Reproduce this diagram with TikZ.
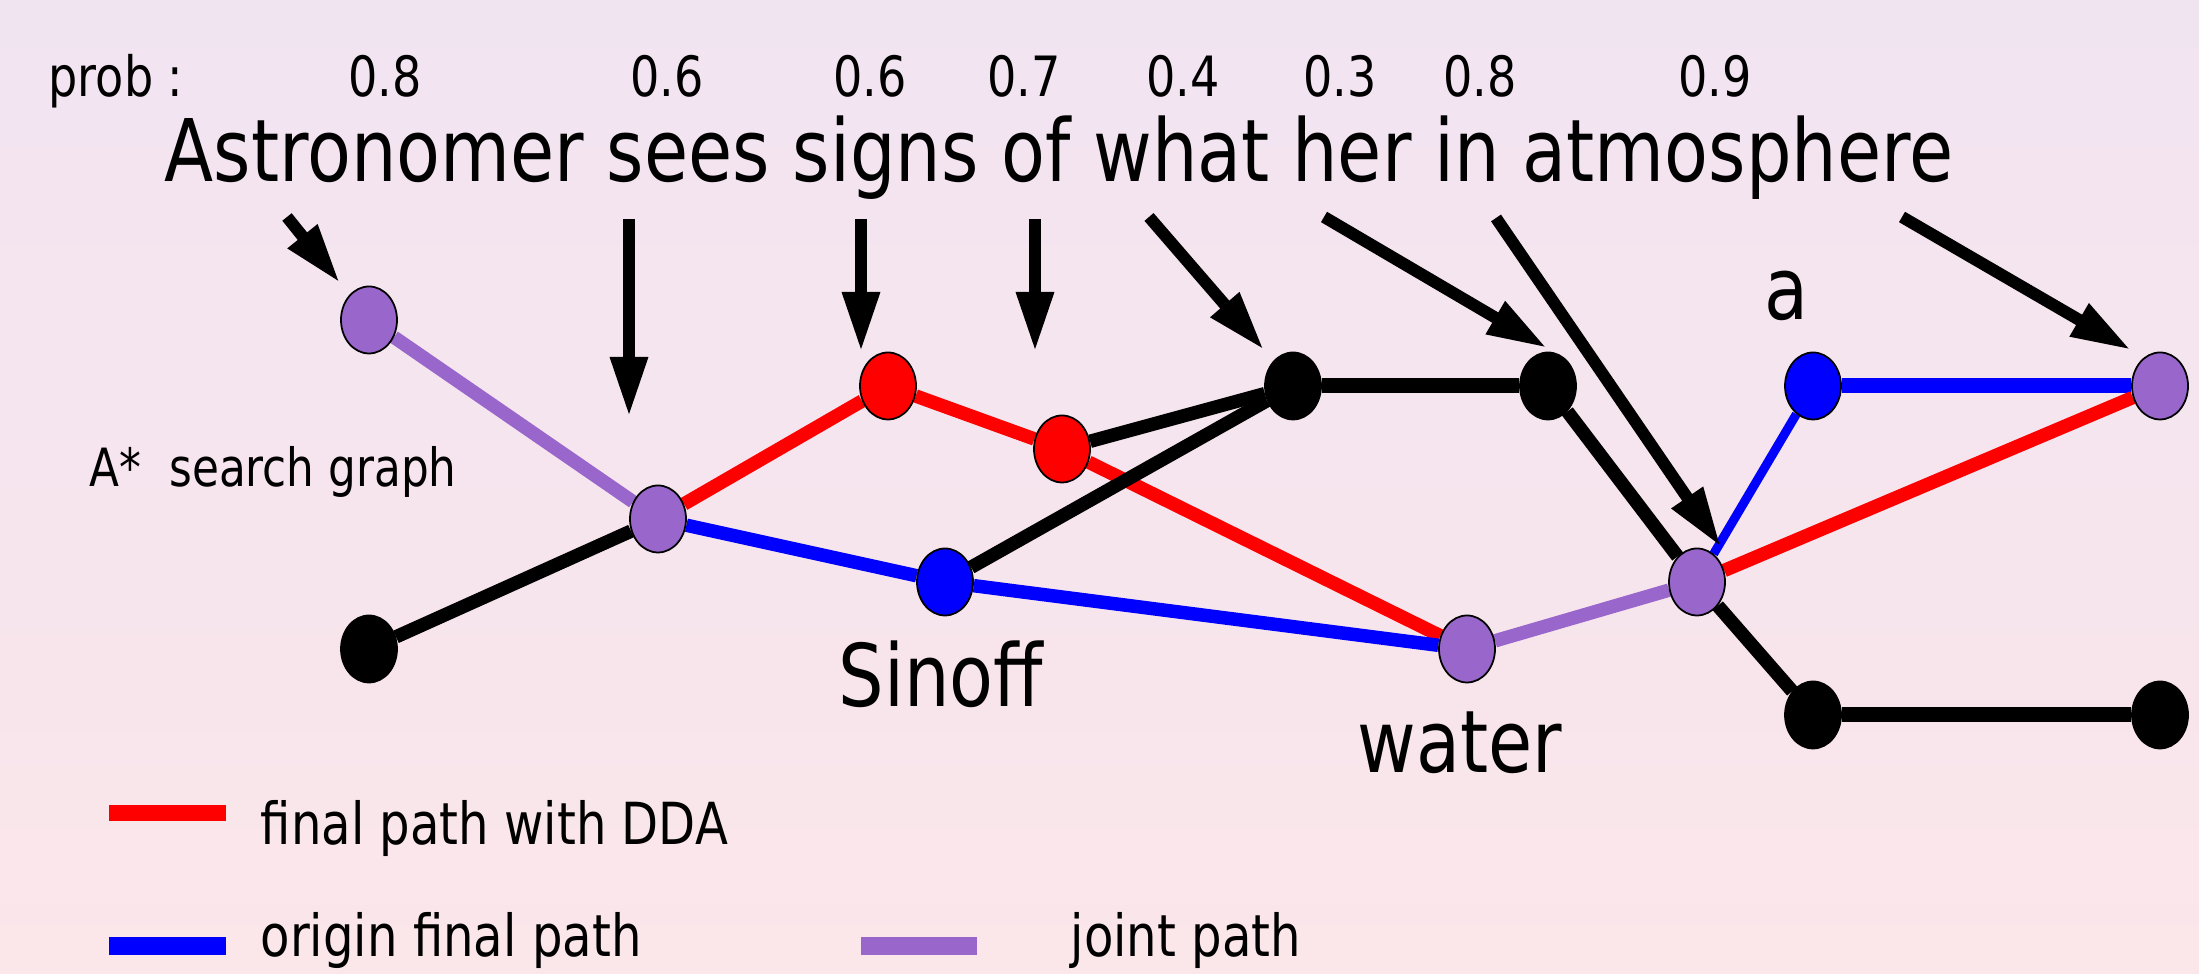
\documentclass[tikz,border=0pt]{standalone}
\usepackage{fontspec}
\setmainfont{DejaVu Sans}[FakeStretch=0.83]
\usetikzlibrary{arrows.meta,shapes.geometric}
\definecolor{joint}{HTML}{9966CC}
\definecolor{bgtop}{HTML}{F1E4F1}
\definecolor{bgbot}{HTML}{FBE6EA}
\pgfdeclarelayer{bg}
\pgfsetlayers{bg,main}
\tikzset{
  vert/.style={ellipse, draw=black, line width=0.5pt, inner sep=0pt,
               minimum width=0.56cm, minimum height=0.67cm},
  blk/.style={vert, fill=black},
  dda/.style={vert, fill=red},
  orig/.style={vert, fill=blue},
  jnt/.style={vert, fill=joint},
  link/.style={line width=0.135cm},
  flat/.style={line width=0.15cm},
  pointer/.style={->, line width=0.12cm},
  bigtxt/.style={inner sep=0pt, anchor=base, font=\fontsize{24.6}{29}\selectfont},
  probtxt/.style={inner sep=0pt, anchor=base, font=\fontsize{15.8}{19}\selectfont},
  legtxt/.style={inner sep=0pt, anchor=base west, font=\fontsize{16.5}{20}\selectfont}
}

\begin{document}
\begin{tikzpicture}[>={Triangle[length=0.6cm, width=0.35cm]}]
  \useasboundingbox (0, 0) rectangle (21.99, 9.74);
  \node[probtxt, anchor=base west] (prob) at (0.48, 8.77) {prob :};
  \node[probtxt] (pr1) at (3.85, 8.77) {0.8};
  \node[probtxt] (pr2) at (6.67, 8.77) {0.6};
  \node[probtxt] (pr3) at (8.70, 8.77) {0.6};
  \node[probtxt] (pr4) at (10.24, 8.77) {0.7};
  \node[probtxt] (pr5) at (11.83, 8.77) {0.4};
  \node[probtxt] (pr6) at (13.40, 8.77) {0.3};
  \node[probtxt] (pr7) at (14.80, 8.77) {0.8};
  \node[probtxt] (pr8) at (17.15, 8.77) {0.9};
  \node[bigtxt] (sent) at (10.59, 7.92) {Astronomer sees signs of what her in atmosphere};
  \node[inner sep=0pt, anchor=base west, font=\fontsize{15}{18}\selectfont] (title) at (0.89, 4.87) {A*\ \ search graph};

  \node[jnt] (p1) at (3.69, 6.54) {};
  \node[blk] (b1) at (3.69, 3.25) {};
  \node[jnt] (p2) at (6.58, 4.55) {};
  \node[dda] (r1) at (8.88, 5.88) {};
  \node[dda] (r2) at (10.62, 5.25) {};
  \node[orig] (o1) at (9.45, 3.92) {};
  \node[blk] (b2) at (12.93, 5.88) {};
  \node[blk] (b3) at (15.48, 5.88) {};
  \node[jnt] (p3) at (14.67, 3.25) {};
  \node[jnt] (p4) at (16.97, 3.92) {};
  \node[orig] (o2) at (18.13, 5.88) {};
  \node[jnt] (p5) at (21.60, 5.88) {};
  \node[blk] (b4) at (18.13, 2.59) {};
  \node[blk] (b5) at (21.60, 2.59) {};

  \node[bigtxt] (sinoff) at (9.41, 2.67) {Sinoff};
  \node[bigtxt] (water) at (14.60, 2.01) {water};
  \node[bigtxt] (wa) at (17.86, 6.54) {a};

  \coordinate (w1) at (2.87, 7.57); \coordinate (h1) at (3.40, 6.91);
  \coordinate (w2) at (6.29, 7.55); \coordinate (h2) at (6.29, 5.57);
  \coordinate (w3) at (8.61, 7.55); \coordinate (h3) at (8.61, 6.22);
  \coordinate (w4) at (10.35, 7.55); \coordinate (h4) at (10.35, 6.22);
  \coordinate (w5) at (11.49, 7.57); \coordinate (h5) at (12.64, 6.24);
  \coordinate (w6) at (13.24, 7.57); \coordinate (h6) at (15.47, 6.26);
  \coordinate (w7) at (14.96, 7.56); \coordinate (h7) at (17.21, 4.27);
  \coordinate (w8) at (19.02, 7.57); \coordinate (h8) at (21.31, 6.24);
  \draw[pointer] (w1) -- (h1);
  \draw[pointer] (w2) -- (h2);
  \draw[pointer] (w3) -- (h3);
  \draw[pointer] (w4) -- (h4);
  \draw[pointer] (w5) -- (h5);
  \draw[pointer] (w6) -- (h6);
  \draw[pointer] (w7) -- (h7);
  \draw[pointer] (w8) -- (h8);

  \begin{pgfonlayer}{bg}
    \shade[top color=bgtop, bottom color=bgbot] (0, 0) rectangle (21.99, 9.74);
    \draw[link, joint] (p1) -- (p2);
    \draw[link] (b1) -- (p2);
    \draw[link, red] (p2) -- (r1) -- (r2) -- (p3);
    \draw[link, blue] (p2) -- (o1) -- (p3);
    \draw[link] (r2) -- (b2);
    \draw[link] (o1) -- (b2);
    \draw[flat] (b2) -- (b3);
    \draw[link] (b3) -- (p4);
    \draw[link, joint] (p3) -- (p4);
    \draw[line width=0.09cm, blue] (p4) -- (o2);
    \draw[flat, blue] (o2) -- (p5);
    \draw[link, red] (p4) -- (p5);
    \draw[link] (p4) -- (b4);
    \draw[flat] (b4) -- (b5);
  \end{pgfonlayer}

  \fill[red] (1.09, 1.53) rectangle (2.26, 1.69);
  \node[legtxt] (leg1) at (2.60, 1.29) {final path with DDA};
  \fill[blue] (1.09, 0.19) rectangle (2.26, 0.37);
  \node[legtxt] (leg2) at (2.60, 0.17) {origin final path};
  \fill[joint] (8.61, 0.19) rectangle (9.77, 0.37);
  \node[legtxt] (leg3) at (10.70, 0.17) {joint path};
\end{tikzpicture}
\end{document}
